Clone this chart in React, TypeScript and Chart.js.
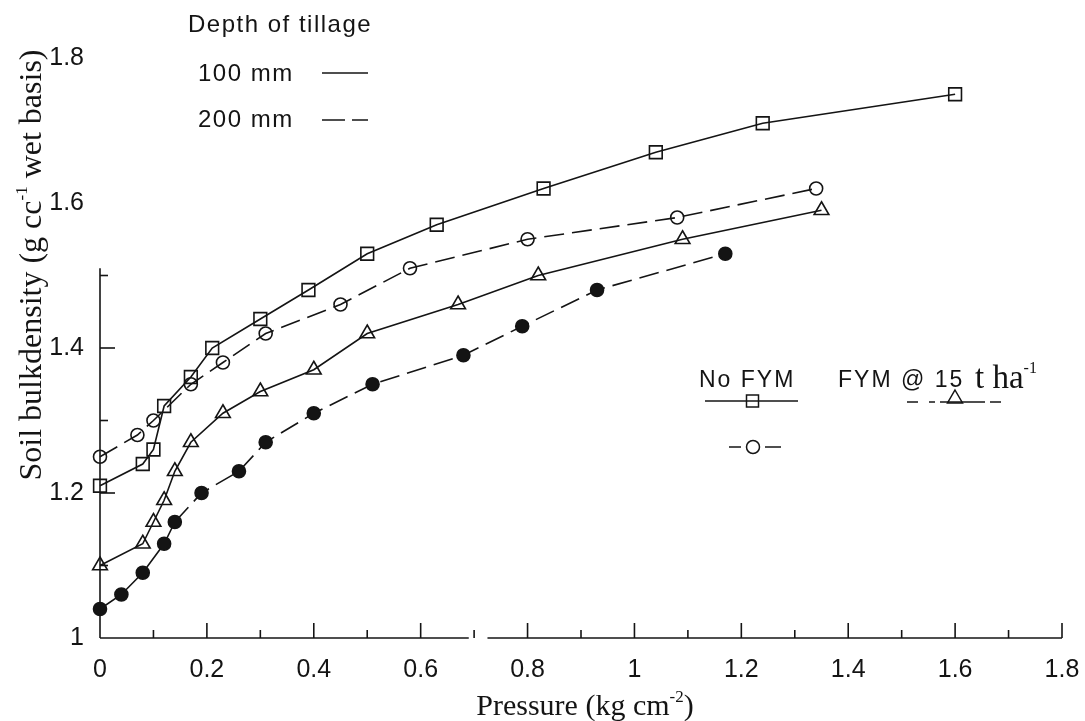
import React, { useEffect, useRef } from 'react';
import { Chart, registerables } from 'chart.js';

Chart.register(...registerables);

// ---- Data ----
// No FYM, 100 mm tillage (open squares, solid line)
const xNoFym100 = [0, 0.08, 0.10, 0.12, 0.17, 0.21, 0.30, 0.39, 0.50, 0.63, 0.83, 1.04, 1.24, 1.60];
const yNoFym100 = [1.21, 1.24, 1.26, 1.32, 1.36, 1.40, 1.44, 1.48, 1.53, 1.57, 1.62, 1.67, 1.71, 1.75];
// No FYM, 200 mm tillage (open circles, dashed line)
const xNoFym200 = [0, 0.07, 0.10, 0.17, 0.23, 0.31, 0.45, 0.58, 0.80, 1.08, 1.34];
const yNoFym200 = [1.25, 1.28, 1.30, 1.35, 1.38, 1.42, 1.46, 1.51, 1.55, 1.58, 1.62];
// FYM @ 15 t/ha, 100 mm tillage (open triangles, solid line)
const xFym100 = [0, 0.08, 0.10, 0.12, 0.14, 0.17, 0.23, 0.30, 0.40, 0.50, 0.67, 0.82, 1.09, 1.35];
const yFym100 = [1.10, 1.13, 1.16, 1.19, 1.23, 1.27, 1.31, 1.34, 1.37, 1.42, 1.46, 1.50, 1.55, 1.59];
// FYM @ 15 t/ha, 200 mm tillage (filled circles, dashed line)
const xFym200 = [0, 0.04, 0.08, 0.12, 0.14, 0.19, 0.26, 0.31, 0.40, 0.51, 0.68, 0.79, 0.93, 1.17];
const yFym200 = [1.04, 1.06, 1.09, 1.13, 1.16, 1.20, 1.23, 1.27, 1.31, 1.35, 1.39, 1.43, 1.48, 1.53];

const xMin = 0;
const xMax = 1.8;
const yMin = 1;
const yMax = 1.8;
const tickStep = 0.2;
const minorStep = 0.1;
// drawn extent of the (scanned) axis lines, in data units
const yAxisTop = 1.51;
const xAxisRuns = [[0, 0.69], [0.725, 1.8]];

const xTitleMain = 'Pressure (kg cm';
const xTitleSup = '-2';
const xTitleEnd = ')';
const yTitleMain = 'Soil bulkdensity (g cc';
const yTitleSup = '-1';
const yTitleEnd = ' wet basis)';
const legendDepthTitle = 'Depth of tillage';
const legendDepth = ['100 mm', '200 mm'];
const legendNoFym = 'No FYM';
const legendFymA = 'FYM @ 15';
const legendFymB = 't ha';
const legendFymSup = '-1';

const INK = '#141414';
const SANS = '"Liberation Sans", Arial, Helvetica, sans-serif';
const SERIF = '"Liberation Serif", "Times New Roman", Times, serif';

const pts = (xs: number[], ys: number[]) => xs.map((x, i) => ({ x, y: ys[i] }));
const fmt = (v: number) => String(Number(v.toFixed(1)));

type Part = { t: string; font: string; dy?: number };
function drawParts(ctx: CanvasRenderingContext2D, parts: Part[], x: number, y: number, align: 'left' | 'center') {
  ctx.textAlign = 'left';
  ctx.textBaseline = 'alphabetic';
  const widths = parts.map((p) => {
    ctx.font = p.font;
    return ctx.measureText(p.t).width;
  });
  const total = widths.reduce((a, b) => a + b, 0);
  let cx = align === 'center' ? x - total / 2 : x;
  parts.forEach((p, i) => {
    ctx.font = p.font;
    ctx.fillText(p.t, cx, y + (p.dy || 0));
    cx += widths[i];
  });
}

function seg(ctx: CanvasRenderingContext2D, x1: number, y1: number, x2: number, y2: number) {
  ctx.beginPath();
  ctx.moveTo(x1, y1);
  ctx.lineTo(x2, y2);
  ctx.stroke();
}

const decorPlugin = {
  id: 'decor',
  beforeDraw(chart: any) {
    const { ctx, width, height } = chart;
    ctx.save();
    ctx.fillStyle = '#ffffff';
    ctx.fillRect(0, 0, width, height);
    ctx.restore();
  },
  afterDraw(chart: any) {
    const { ctx } = chart;
    const xs = chart.scales.x;
    const ys = chart.scales.y;
    ctx.save();
    ctx.strokeStyle = INK;
    ctx.fillStyle = INK;
    ctx.lineWidth = 1.6;
    ctx.setLineDash([]);

    // axes
    const y0 = ys.getPixelForValue(yMin);
    const x0 = xs.getPixelForValue(xMin);
    xAxisRuns.forEach(([a, b]) => seg(ctx, xs.getPixelForValue(a), y0, xs.getPixelForValue(b), y0));
    const nX = Math.round((xMax - xMin) / minorStep);
    for (let i = 1; i <= nX; i++) {
      const px = xs.getPixelForValue(xMin + i * minorStep);
      const len = i % 2 === 0 ? 15 : 8;
      seg(ctx, px, y0, px, y0 - len);
    }
    seg(ctx, x0, y0, x0, ys.getPixelForValue(yAxisTop));
    const nY = Math.round((yMax - yMin) / minorStep);
    for (let i = 1; i <= nY; i++) {
      const v = yMin + i * minorStep;
      if (v > yAxisTop + 1e-6) break;
      const py = ys.getPixelForValue(v);
      const len = i % 2 === 0 ? 15 : 8;
      seg(ctx, x0, py, x0 + len, py);
    }

    // axis titles
    drawParts(ctx, [
      { t: xTitleMain, font: `30px ${SERIF}` },
      { t: xTitleSup, font: `17px ${SERIF}`, dy: -13 },
      { t: xTitleEnd, font: `30px ${SERIF}` },
    ], 585, 715, 'center');

    ctx.save();
    ctx.translate(41, 265);
    ctx.rotate(-Math.PI / 2);
    drawParts(ctx, [
      { t: yTitleMain, font: `32px ${SERIF}` },
      { t: yTitleSup, font: `17px ${SERIF}`, dy: -14 },
      { t: yTitleEnd, font: `32px ${SERIF}` },
    ], 0, 0, 'center');
    ctx.restore();

    // legend: depth of tillage
    ctx.lineWidth = 1.5;
    (ctx as any).letterSpacing = '1.5px';
    drawParts(ctx, [{ t: legendDepthTitle, font: `24px ${SANS}` }], 188, 32, 'left');
    drawParts(ctx, [{ t: legendDepth[0], font: `24px ${SANS}` }], 198, 81, 'left');
    drawParts(ctx, [{ t: legendDepth[1], font: `24px ${SANS}` }], 198, 127, 'left');
    seg(ctx, 322, 73, 368, 73);
    ctx.setLineDash([23, 7]);
    seg(ctx, 322, 120, 368, 120);
    ctx.setLineDash([]);

    // legend: FYM
    (ctx as any).letterSpacing = '2px';
    drawParts(ctx, [{ t: legendNoFym, font: `23px ${SANS}` }], 699, 387, 'left');
    drawParts(ctx, [{ t: legendFymA, font: `23px ${SANS}` }], 838, 387, 'left');
    (ctx as any).letterSpacing = '0px';
    drawParts(ctx, [
      { t: legendFymB, font: `33px ${SERIF}` },
      { t: legendFymSup, font: `16px ${SERIF}`, dy: -15 },
    ], 975, 388, 'left');

    // No FYM 100 mm: line + square
    seg(ctx, 705, 401, 798, 401);
    ctx.strokeRect(746.5, 395, 12, 12);
    // No FYM 200 mm: dash + circle + dash
    seg(ctx, 729, 447, 741, 447);
    ctx.beginPath();
    ctx.arc(753, 447, 6.5, 0, Math.PI * 2);
    ctx.stroke();
    seg(ctx, 765, 447, 781, 447);
    // FYM 100 mm: dashed line + triangle
    seg(ctx, 907, 402, 918, 402);
    seg(ctx, 929, 402, 935, 402);
    seg(ctx, 940, 402, 985, 402);
    seg(ctx, 990, 402, 1001, 402);
    ctx.beginPath();
    ctx.moveTo(955, 390);
    ctx.lineTo(962.5, 403);
    ctx.lineTo(947.5, 403);
    ctx.closePath();
    ctx.stroke();

    ctx.restore();
  },
};

export default function App() {
  const canvasRef = useRef<HTMLCanvasElement | null>(null);

  useEffect(() => {
    const canvas = canvasRef.current;
    if (!canvas) return;
    const common = {
      showLine: true,
      borderColor: INK,
      borderWidth: 1.6,
      pointBorderColor: INK,
      pointBorderWidth: 1.6,
      pointBackgroundColor: 'rgba(0,0,0,0)',
      clip: false as any,
    };
    const chart = new Chart(canvas, {
      type: 'scatter',
      data: {
        datasets: [
          {
            ...common,
            label: 'No FYM, 100 mm',
            data: pts(xNoFym100, yNoFym100),
            pointStyle: 'rect',
            pointRadius: 9,
          },
          {
            ...common,
            label: 'No FYM, 200 mm',
            data: pts(xNoFym200, yNoFym200),
            pointStyle: 'circle',
            pointRadius: 6.5,
            borderDash: [20, 8],
          },
          {
            ...common,
            label: 'FYM @ 15 t/ha, 100 mm',
            data: pts(xFym100, yFym100),
            pointStyle: 'triangle',
            pointRadius: 8.5,
          },
          {
            ...common,
            label: 'FYM @ 15 t/ha, 200 mm',
            data: pts(xFym200, yFym200),
            pointStyle: 'circle',
            pointRadius: 6.5,
            pointBackgroundColor: INK,
            borderDash: [20, 8],
            segment: {
              borderDash: (c: any) => (c.p0DataIndex < 4 ? [] : undefined),
            },
          },
        ],
      },
      options: {
        responsive: false,
        animation: false,
        events: [],
        layout: { padding: { top: 58, right: 23, bottom: 0, left: 0 } },
        plugins: {
          legend: { display: false },
          tooltip: { enabled: false },
          title: { display: false },
        },
        scales: {
          x: {
            type: 'linear',
            min: xMin,
            max: xMax,
            grid: { display: false, drawTicks: false },
            border: { display: false },
            ticks: {
              stepSize: tickStep,
              padding: 17,
              color: INK,
              font: { family: SANS, size: 25 },
              maxRotation: 0,
              autoSkip: false,
              callback: (v: any) => fmt(Number(v)),
            },
            afterFit: (s: any) => {
              s.height = 83;
              s.paddingLeft = 0;
              s.paddingRight = 0;
            },
          },
          y: {
            type: 'linear',
            min: yMin,
            max: yMax,
            grid: { display: false, drawTicks: false },
            border: { display: false },
            ticks: {
              stepSize: tickStep,
              padding: 16,
              color: INK,
              font: { family: SANS, size: 25 },
              callback: (v: any) => fmt(Number(v)),
            },
            afterFit: (s: any) => {
              s.width = 100;
              s.paddingTop = 0;
              s.paddingBottom = 0;
            },
          },
        },
      },
      plugins: [decorPlugin],
    });
    return () => chart.destroy();
  }, []);

  return (
    <div style={{ position: 'absolute', left: 0, top: 0, width: 1085, height: 721, background: '#fff' }}>
      <canvas ref={canvasRef} width={1085} height={721} style={{ display: 'block' }} />
    </div>
  );
}
